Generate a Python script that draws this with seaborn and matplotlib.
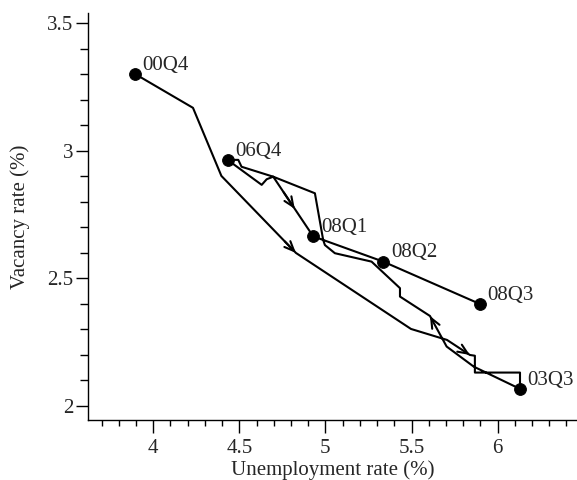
import numpy as np
import pandas as pd
import seaborn as sns
import matplotlib.pyplot as plt
from matplotlib.ticker import MultipleLocator, FormatStrFormatter

# Beveridge curve path (quarterly path 00Q4 -> 08Q3)
unemp = [3.894, 4.231, 4.396, 4.829, 5.497, 5.706, 5.839, 5.868, 5.868, 6.130, 6.130,
         5.862, 5.704, 5.607, 5.433, 5.433, 5.268, 5.055, 4.997, 4.987, 4.939, 4.697,
         4.513, 4.494, 4.432,
         4.630, 4.659, 4.697, 4.929, 5.336, 5.897]
vacancy = [3.302, 3.169, 2.902, 2.600, 2.302, 2.259, 2.200, 2.197, 2.131, 2.131, 2.067,
           2.154, 2.233, 2.353, 2.429, 2.462, 2.566, 2.599, 2.631, 2.651, 2.834, 2.899,
           2.938, 2.965, 2.965,
           2.867, 2.889, 2.899, 2.665, 2.566, 2.400]

# labelled quarters (index into the path)
quarter_labels = ["00Q4", "03Q3", "06Q4", "08Q1", "08Q2", "08Q3"]
quarter_idx = [0, 10, 24, 28, 29, 30]

# arrows: (segment start index, fraction along segment where the tip sits)
arrow_seg = [2, 5, 12, 27]
arrow_frac = [1.0, 1.0, 1.0, 0.54]

sns.set_style("ticks")
plt.rcParams['font.family'] = ['Liberation Serif', 'DejaVu Serif']
plt.rcParams['xtick.labelsize'] = 15
plt.rcParams['ytick.labelsize'] = 15

df = pd.DataFrame({"u": unemp, "v": vacancy, "t": np.arange(len(unemp))})
pts = df.iloc[quarter_idx].copy()
pts["lab"] = quarter_labels

fig = plt.figure(figsize=(5.77, 4.8), dpi=100)
ax = fig.add_axes([0.153, 0.125, 0.847, 0.848])

sns.lineplot(data=df, x="u", y="v", sort=False, estimator=None, color="black",
             lw=1.5, ax=ax)
sns.scatterplot(data=pts, x="u", y="v", color="black", s=72, edgecolor="black",
                zorder=3, ax=ax)

for _, r in pts.iterrows():
    ax.annotate(r["lab"], (r["u"], r["v"]), xytext=(5.5, 3), textcoords="offset points",
                ha="left", va="baseline", fontsize=15)

for s, f in zip(arrow_seg, arrow_frac):
    a = np.array([unemp[s], vacancy[s]])
    b = np.array([unemp[s + 1], vacancy[s + 1]])
    tip = a + f * (b - a)
    tail = tip - 0.15 * (b - a) / max(f, 0.15)
    ax.annotate("", xy=tip, xytext=tail,
                arrowprops=dict(arrowstyle="->,head_length=0.7,head_width=0.3",
                                lw=1.5, color="black", shrinkA=0, shrinkB=0))

ax.set_xlim(3.623, 6.461)
ax.set_ylim(1.945, 3.541)
ax.xaxis.set_major_locator(MultipleLocator(0.5))
ax.xaxis.set_minor_locator(MultipleLocator(0.1))
ax.yaxis.set_major_locator(MultipleLocator(0.5))
ax.yaxis.set_minor_locator(MultipleLocator(0.1))
ax.xaxis.set_major_formatter(FormatStrFormatter('%g'))
ax.yaxis.set_major_formatter(FormatStrFormatter('%g'))
ax.tick_params(axis="both", which="major", length=9, width=1, color="black")
ax.tick_params(axis="x", which="major", pad=5)
ax.tick_params(axis="y", which="major", pad=2)
ax.tick_params(axis="x", which="minor", length=4, width=1, color="black")
ax.tick_params(axis="y", which="minor", length=6, width=1, color="black")
sns.despine(ax=ax)
for sp in ["left", "bottom"]:
    ax.spines[sp].set_color("black")
    ax.spines[sp].set_linewidth(1)

ax.set_xlabel("Unemployment rate (%)", fontsize=15, labelpad=1)
ax.set_ylabel("Vacancy rate (%)", fontsize=15, labelpad=12)

fig.savefig("out.png", dpi=100)
